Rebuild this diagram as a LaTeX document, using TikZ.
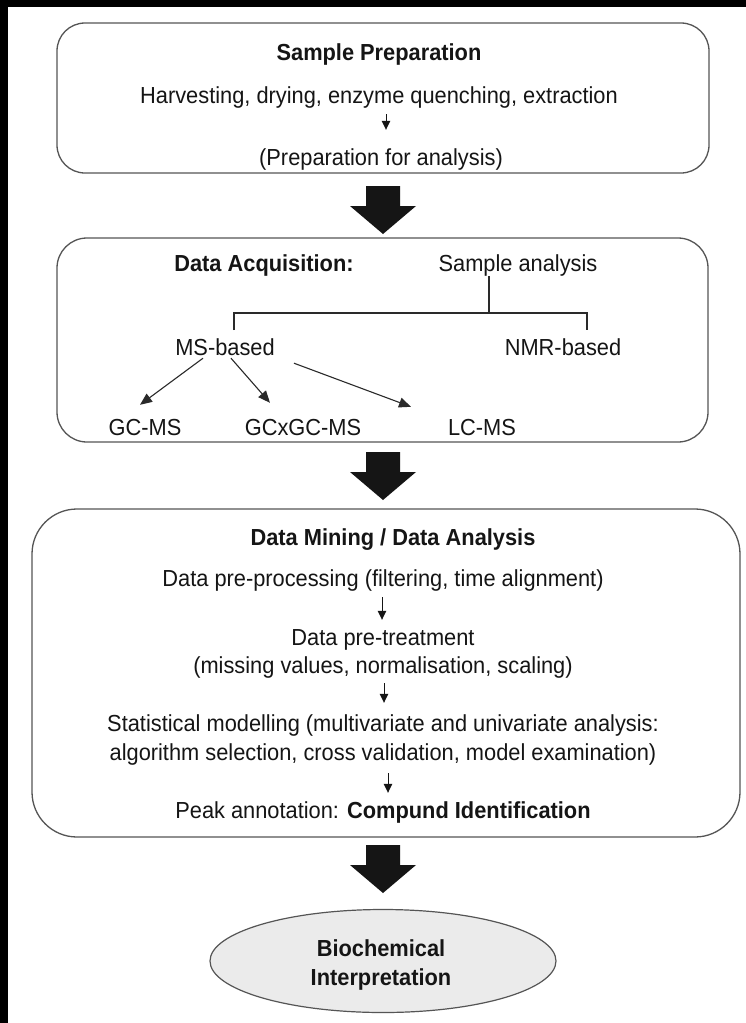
\documentclass[tikz,border=0pt]{standalone}
\usepackage{fontspec}
\setmainfont[FakeStretch=0.94]{Liberation Sans}
\usetikzlibrary{arrows.meta,shapes.geometric,calc}
\definecolor{boxgray}{HTML}{555555}
\definecolor{textblack}{HTML}{151515}
\definecolor{ellgray}{HTML}{EBEBEB}
\definecolor{linegray}{HTML}{2A2A2A}
\begin{document}
\begin{tikzpicture}[x=1pt,y=-1pt,
  box/.style={draw=boxgray, line width=1.3pt, inner sep=0pt},
  txt/.style={anchor=base, inner sep=0pt, text height=17pt, text depth=5pt,
    font=\fontsize{23.2}{28}\selectfont, text=textblack},
  ttl/.style={txt, font=\bfseries\fontsize{23.2}{28}\selectfont},
  flowarrow/.style={-{Triangle[length=9pt,width=8.5pt]}, line width=1pt, draw=textblack},
  treeline/.style={line width=1.1pt, draw=linegray},
  brancharrow/.style={-{Triangle[length=12pt,width=10pt]}, line width=1.1pt, draw=linegray},
  bigarrow/.pic={\fill[textblack] (-17,0) -- (17,0) -- (17,20) -- (33,20) -- (0,48) -- (-33,20) -- (-17,20) -- cycle;}
]
\useasboundingbox (0,0) rectangle (746,1023);
\fill[black] (0,0) rectangle (746,1023);
\fill[white] (8,7) rectangle (746,1023);

% ---------- Box 1: Sample Preparation ----------
\node[box, rounded corners=28pt, minimum width=652pt, minimum height=150pt] (b1) at (383,98) {};
\node[ttl] (sp) at (379,60) {Sample Preparation};
\node[txt] (hv) at (379,103) {Harvesting, drying, enzyme quenching, extraction};
\node[txt] (pa) at (381,165) {(Preparation for analysis)};
\draw[flowarrow, shorten <=6pt, shorten >=18pt] (hv.south -| 386,0) -- (pa.north -| 386,0);

\pic at (383,186) {bigarrow};

% ---------- Box 2: Data Acquisition ----------
\node[box, rounded corners=30pt, minimum width=651pt, minimum height=204pt] (b2) at (382.5,340) {};
\node[ttl] (da) at (264,271) {Data Acquisition:};
\node[txt] (sa) at (518,271) {Sample analysis};
\node[txt] (ms) at (225,355) {MS-based};
\node[txt] (nmr) at (563,355) {NMR-based};
\node[txt] (gc) at (145,435) {GC-MS};
\node[txt] (gx) at (303,435) {GCxGC-MS};
\node[txt] (lc) at (482,435) {LC-MS};
\coordinate (jn) at (489,313);
\coordinate (bl) at (234,330);
\coordinate (br) at (587,330);
\draw[treeline] (sa.south -| jn) -- (jn);
\draw[treeline] (bl) |- (jn) -| (br);
\draw[brancharrow] ($(ms.south)+(-22,-2)$) -- ($(gc.north)+(-5,-13)$);
\draw[brancharrow] ($(ms.south)+(6,-2)$) -- ($(gx.north)+(-33,-15)$);
\draw[brancharrow] ($(ms.south)+(69,3)$) -- ($(lc.north)+(-71,-11)$);

\pic at (383,452) {bigarrow};

% ---------- Box 3: Data Mining ----------
\node[box, rounded corners=45pt, minimum width=708pt, minimum height=328pt] (b3) at (386,673) {};
\node[ttl] (dm) at (393,545) {Data Mining / Data Analysis};
\node[txt] (pp) at (383,586) {Data pre-processing (filtering, time alignment)};
\node[txt] (pt) at (383,645) {Data pre-treatment};
\node[txt] (mv) at (383,673) {(missing values, normalisation, scaling)};
\node[txt] (st) at (383,731) {Statistical modelling (multivariate and univariate analysis:};
\node[txt] (al) at (383,760) {algorithm selection, cross validation, model examination)};
\node[txt] (pk) at (383,818) {Peak annotation: \textbf{Compund Identification}};
\draw[flowarrow, shorten <=6pt, shorten >=8pt] (pp.south -| 382,0) -- (pt.north -| 382,0);
\draw[flowarrow, shorten <=5pt, shorten >=11pt] (mv.south -| 384,0) -- (st.north -| 384,0);
\draw[flowarrow, shorten <=8pt, shorten >=8pt] (al.south -| 388,0) -- (pk.north -| 388,0);

\pic at (383,845) {bigarrow};

% ---------- Ellipse ----------
\node[ellipse, draw=boxgray, line width=1.2pt, fill=ellgray, minimum width=346pt, minimum height=103pt, inner sep=0pt] (bio) at (383,961) {};
\node[ttl] (bio1) at (381,956) {Biochemical};
\node[ttl] (bio2) at (381,985) {Interpretation};
\end{tikzpicture}
\end{document}
